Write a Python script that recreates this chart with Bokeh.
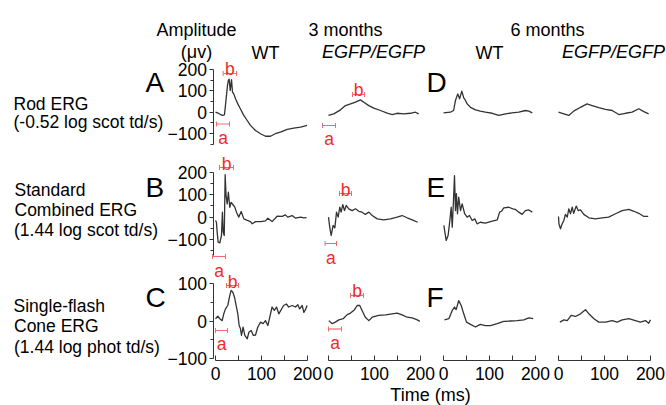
from bokeh.plotting import figure
from bokeh.models import Range1d, LinearAxis, FixedTicker, Label, Whisker, TeeHead
from bokeh.embed import file_html
from bokeh.resources import INLINE

# ---------------- data (time in ms, amplitude in microvolts) ----------------
# Row A: Rod ERG
rod_wt_3m_t = [0, 7, 14.5, 19.5, 23, 26, 28, 29.7, 32, 34.8, 37, 40, 43.5, 48.5, 54, 61.5, 69, 76, 87, 98, 108.7, 119.6, 130, 141, 156, 170, 185, 199]
rod_wt_3m_v = [0, -6, -15, -12, 60, 125, 150, 155, 102, 153, 94, 85, 63, 39, 16, -15, -39, -62, -86, -101, -113, -113, -101, -94, -81, -75, -70, -62]
rod_egfp_3m_t = [0, 11.5, 26, 37, 48, 58.7, 69.6, 76.8, 87.6, 98.5, 113, 127.6, 138.5, 149, 163.7, 178, 189, 196]
rod_egfp_3m_v = [-15, -8, 11, 31, 39, 47, 58, 47, 31, 19, 8, -4.5, -11, -5, -8, -5, 0, -8]
rod_wt_6m_t = [0, 15, 22, 26, 31, 35, 39.8, 44, 47.8, 51.4, 58.7, 69.6, 80, 91, 106, 120, 135, 149, 163.7, 178, 185.5, 193]
rod_wt_6m_v = [-3, 0, 8, 55, 86, 63, 99, 67, 55, 39, 23, 11, 5, 0, -5, -15, -8, -3, 0, 8, 5, -3]
rod_egfp_6m_t = [0, 11.6, 22.4, 33, 47.8, 62, 73, 87.6, 102, 116.7, 131, 145.6, 160, 174.6, 185.5, 196]
rod_egfp_6m_v = [0, -8, -15, 5, 23, 39, 31, 21, 13, 8, -11, -5, 0, 16, 3, -8]

# Row B: Standard combined ERG
std_wt_3m_t = [0, 2, 3.6, 5.8, 9.4, 13, 15, 16.7, 19, 21, 23, 25.4, 28, 31, 34, 38, 42, 45.6, 50.7, 55.8, 61.6, 69, 76, 79.7, 87, 98, 108.7, 113.8, 123, 134, 145, 152, 157, 166.7, 174, 185, 192, 198]
std_wt_3m_v = [-15, -23, -67, -112, -115, -82, 22, -67, -82, 189, 96, 59, 111, 44, 66, 55, 44, 22, 0, 25, -8, -15, -20, -30, -20, -20, -17, -5, -20, 4, 3, 10, 0, 7, -5, 0, -3, -2]
std_egfp_3m_t = [0, 2.9, 5.8, 10, 13.8, 17.4, 21, 24.6, 27.5, 31, 34.8, 38.5, 44, 51.4, 58.7, 66, 73, 80, 87.7, 95, 106, 120, 135, 149, 160, 171, 182, 194]
std_egfp_3m_v = [0, -48, -82, -37, -48, 22, 0, 44, 22, 56, 29, 52, 37, 29, 37, 26, 22, 12, 22, 7, -8, -12, -8, 0, 7, -3, -12, -23]
std_wt_6m_t = [0.7, 5.8, 10, 13.8, 16.7, 19, 21.7, 23.9, 26, 28, 30.4, 33, 37, 40.6, 46, 51.4, 56.5, 62.4, 68, 73, 80, 91, 106, 117, 122, 126, 131, 142, 150.7, 156.5, 163.7, 171, 178, 185.5, 193]
std_wt_6m_v = [-37, -104, -82, -15, 44, -45, 74, 185, 29, 104, 15, 89, 29, 59, 15, 0, 7, -15, -8, -30, -23, -27, -18, -12, 22, 26, 41, 44, 37, 34, 22, 12, 29, 32, 22]
std_egfp_6m_t = [0, 1, 4.3, 8, 11.6, 15, 19, 22.4, 26, 29.8, 33, 38.5, 42.8, 47.8, 55, 66, 80, 95, 109, 124, 138.5, 153, 164, 174.6, 185.5, 195]
std_egfp_6m_v = [3, -30, -52, -30, -15, 12, 0, 37, 15, 44, 17, 49, 29, 32, 12, -3, -8, -3, 0, 15, 29, 34, 26, 17, 3, 3]

# Row C: Single-flash cone ERG
cone_wt_3m_t = [0, 5, 9.4, 14.5, 18, 21.7, 26.7, 31, 34, 37.7, 41.3, 45.6, 48.5, 51.4, 54, 56.5, 60, 63.8, 69, 72.5, 77.5, 82, 87, 92, 98, 103.6, 108.7, 113.8, 118, 123, 128, 132.6, 137.6, 148, 154, 159, 166.7, 174, 179, 183, 188.5, 192, 195.6, 199]
cone_wt_3m_v = [6, 13, 6, 1, 19, 32, 41, 67, 81, 76, 63, 37, 19, -12, -19, -38, -16, -38, -47, -30, -25, -38, -37, -16, -3, -7, 1, -12, 10, 37, 28, 37, 19, 41, 45, 37, 41, 37, 43, 32, 41, 23, 30, 41]
cone_egfp_3m_t = [0.7, 8, 15, 22.4, 32, 40.6, 48, 56.5, 62.4, 68, 73, 80, 87.7, 95, 109, 124, 138.5, 149, 160, 171, 182, 193, 198.5]
cone_egfp_3m_v = [1, -7, -3, 3, 6, 17, 21, 30, 41, 41, 28, 10, 1, 10, 15, 16, 19, 21, 16, 10, 8, 3, -1]
cone_wt_6m_t = [2, 11.6, 19, 24, 27.5, 33, 38.5, 44, 50, 58.7, 69.6, 80, 91, 102, 116.7, 131, 145.6, 160, 174.6, 185.5, 195]
cone_wt_6m_v = [3, 6, 28, 37, 30, 54, 41, 19, -3, -9, -16, -9, -12, -12, -7, -1, 0, 1, 3, 8, 6]
cone_egfp_6m_t = [3, 11.6, 19, 27.5, 37, 47.8, 58.7, 66, 77, 87.6, 102, 116.7, 127.6, 138.5, 153, 167, 178, 189, 196, 200]
cone_egfp_6m_v = [-3, 3, 1, 15, 12, 19, 30, 19, 6, -3, -3, 1, -3, 3, 6, 1, -3, 1, -6, 3]

# a-wave / b-wave marker windows: (row, column), start ms, end ms, level uV
bwave_panel = [(0, 0), (0, 1), (1, 0), (1, 1), (2, 0), (2, 1)]
bwave_t0 = [16.7, 52.2, 8.7, 23.9, 23.9, 47.8]
bwave_t1 = [45.7, 78.3, 39.1, 50.0, 50.0, 76.1]
bwave_level = [181.7, 83.1, 221.1, 105.2, 93.9, 67.5]
awave_panel = [(0, 0), (0, 1), (1, 0), (1, 1), (2, 0), (2, 1)]
awave_t0 = [2.2, -13.0, -6.5, -7.6, 0.0, 0.0]
awave_t1 = [30.4, 15.2, 21.7, 17.4, 26.1, 28.3]
awave_level = [-55.4, -62.4, -175.7, -117.7, -25.1, -21.2]

# tick values
y_ticks = [[-100, 0, 100, 200], [-100, 0, 100, 200], [-100, 0, 100]]
y_minor = [[-150, -50, 50, 150], [-150, -50, 50, 150], [-50, 50]]
y_bounds = [(-150, 200), (-170, 200), (-100, 100)]
x_ticks = [0, 100, 200]
x_minor = [50, 150]

row_labels = [["Rod ERG", "(-0.52 log scot td/s)"],
              ["Standard", "Combined ERG", "(1.44 log scot td/s)"],
              ["Single-flash", "Cone ERG", "(1.44 log phot td/s)"]]
panel_letters = ["A", "B", "C", "D", "E", "F"]

traces = [
    [(rod_wt_3m_t, rod_wt_3m_v), (rod_egfp_3m_t, rod_egfp_3m_v), (rod_wt_6m_t, rod_wt_6m_v), (rod_egfp_6m_t, rod_egfp_6m_v)],
    [(std_wt_3m_t, std_wt_3m_v), (std_egfp_3m_t, std_egfp_3m_v), (std_wt_6m_t, std_wt_6m_v), (std_egfp_6m_t, std_egfp_6m_v)],
    [(cone_wt_3m_t, cone_wt_3m_v), (cone_egfp_3m_t, cone_egfp_3m_v), (cone_wt_6m_t, cone_wt_6m_v), (cone_egfp_6m_t, cone_egfp_6m_v)],
]

# ---------------- layout (canvas pixels) ----------------
W, H = 666, 405
PX_PER_MS = 0.46
COL_ZERO = [215, 328, 443, 558]
ROW_ZERO = [111.7, 216.6, 320.5]
ROW_PPU = [0.213, 0.2243, 0.378]
YAXIS_PX = 212.5
XAXIS_PX = 360.0

FONT = "Liberation Sans"
INK = "#333333"
RED = "#f22a2a"
RED_BR = "#f46a6a"

p = figure(width=W, height=H, output_backend="svg", toolbar_location=None,
           x_range=Range1d(0, W), y_range=Range1d(H, 0),
           x_axis_location=None, y_axis_location=None, min_border=0,
           outline_line_color=None, background_fill_color="white", border_fill_color="white")
p.grid.visible = False

p.extra_x_ranges = {f"c{k}": Range1d((0 - z) / PX_PER_MS, (W - z) / PX_PER_MS)
                    for k, z in enumerate(COL_ZERO)}
p.extra_y_ranges = {f"r{r}": Range1d((z - H) / s, z / s)
                    for r, (z, s) in enumerate(zip(ROW_ZERO, ROW_PPU))}

for r, row in enumerate(traces):
    for k, (t, v) in enumerate(row):
        p.line(t, v, x_range_name=f"c{k}", y_range_name=f"r{r}",
               line_color=INK, line_width=1.3, line_join="round")

# y axes (first column)
for r in range(3):
    ax = LinearAxis(x_range_name="c0", y_range_name=f"r{r}",
                    fixed_location=(YAXIS_PX - COL_ZERO[0]) / PX_PER_MS,
                    bounds=y_bounds[r],
                    ticker=FixedTicker(ticks=y_ticks[r], minor_ticks=y_minor[r]))
    ax.axis_line_color = INK
    ax.major_tick_line_color = INK
    ax.minor_tick_line_color = INK
    ax.major_tick_out = 4
    ax.major_tick_in = 0
    ax.minor_tick_out = 3
    ax.minor_tick_in = 0
    ax.major_label_standoff = 2
    ax.major_label_text_font = FONT
    ax.major_label_text_font_size = "17.5px"
    ax.major_label_text_color = "black"
    p.add_layout(ax, "left")

# x axes (bottom row)
for k in range(4):
    ax = LinearAxis(x_range_name=f"c{k}", y_range_name="r2",
                    fixed_location=(ROW_ZERO[2] - XAXIS_PX) / ROW_PPU[2],
                    bounds=(0, 200),
                    ticker=FixedTicker(ticks=x_ticks, minor_ticks=x_minor))
    ax.axis_line_color = INK
    ax.major_tick_line_color = INK
    ax.minor_tick_line_color = INK
    ax.major_tick_out = 0
    ax.major_tick_in = 5
    ax.minor_tick_out = 0
    ax.minor_tick_in = 5
    ax.major_label_standoff = 6
    ax.major_label_text_font = FONT
    ax.major_label_text_font_size = "17.5px"
    ax.major_label_text_color = "black"
    p.add_layout(ax, "below")

# a/b markers
def marker(panel, t0, t1, level, letter, yoff):
    r, k = panel
    hd = dict(size=5, line_color=RED_BR, line_width=1)
    p.add_layout(Whisker(base=level, lower=t0, upper=t1, dimension="width",
                         x_range_name=f"c{k}", y_range_name=f"r{r}",
                         line_color=RED_BR, line_width=1.2,
                         lower_head=TeeHead(**hd), upper_head=TeeHead(**hd)))
    p.add_layout(Label(x=(t0 + t1) / 2, y=level, y_offset=yoff, text=letter,
                       x_range_name=f"c{k}", y_range_name=f"r{r}",
                       text_font=FONT, text_font_size="17.5px", text_color=RED,
                       text_align="center", text_baseline="alphabetic"))

for i in range(len(bwave_panel)):
    marker(bwave_panel[i], bwave_t0[i], bwave_t1[i], bwave_level[i], "b", 4)
for i in range(len(awave_panel)):
    marker(awave_panel[i], awave_t0[i], awave_t1[i], awave_level[i], "a", -14)

# texts (positions in canvas pixels)
def text(s, x, y, size="17.5px", align="left", style="normal"):
    p.add_layout(Label(x=x, y=y, text=s, text_font=FONT, text_font_size=size,
                       text_align=align, text_baseline="alphabetic",
                       text_font_style=style, text_color="black"))

text("Amplitude", 196, 29.3, size="18px", align="center")
text("(\u03bcv)", 196, 51.7, size="18px", align="center")
text("WT", 265, 52.7, size="18px", align="center")
text("3 months", 345, 29.3, size="18px", align="center")
text("EGFP/EGFP", 373, 51.7, size="18px", align="center", style="italic")
text("6 months", 547, 29.3, size="18px", align="center")
text("WT", 489, 52.7, size="18px", align="center")
text("EGFP/EGFP", 613, 51.7, size="18px", align="center", style="italic")

row_label_pos = [[(13, 103), (13, 121.5)],
                 [(14, 189.3), (14, 209.3), (13.5, 229.3)],
                 [(13, 305), (13.5, 325), (13.5, 346)]]
for lines, poss in zip(row_labels, row_label_pos):
    for s, (x, y) in zip(lines, poss):
        text(s, x, y)

letter_pos = [(145, 81.5), (145, 186.5), (145, 296.7), (426, 81.7), (426, 186.7), (426, 296.7)]
for s, (x, y) in zip(panel_letters, letter_pos):
    text(s, x, y, size="28px")

text("Time (ms)", 430, 394.5, size="18px", align="center")

open("out.html", "w").write(file_html(p, INLINE))
